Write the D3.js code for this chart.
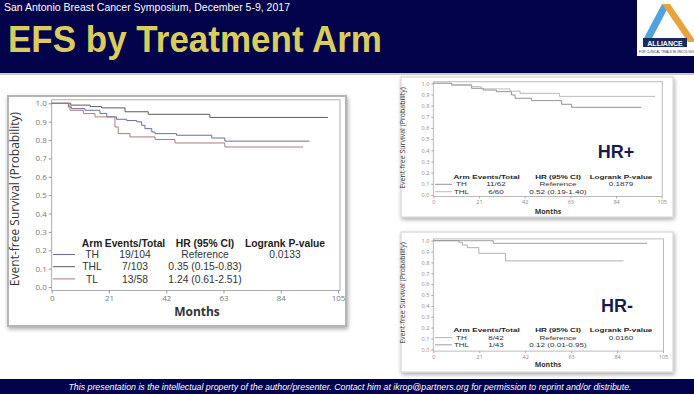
<!DOCTYPE html>
<html>
<head>
<meta charset="utf-8">
<script src="https://cdn.jsdelivr.net/npm/d3@7"></script>
<style>
  body { margin: 0; background: #fff; }
  svg { display: block; }
  .chart text { font-family: "Liberation Sans", Arial, sans-serif; }
</style>
</head>
<body>
<script>
// month ticks shared by all three plots
var monthTicks = [0, 21, 42, 63, 84, 105];
var survTicks = [0, 0.1, 0.2, 0.3, 0.4, 0.5, 0.6, 0.7, 0.8, 0.9, 1.0];

// all patients: [month, event-free survival], last point = end of follow-up
var allTH  = [[0,1],[6.1,0.98],[7.3,0.971],[12.2,0.962],[17.7,0.945],[20.2,0.926],[23.8,0.913],[27.5,0.906],[31.2,0.899],[33,0.88],[34.2,0.862],[36.7,0.844],[37.9,0.835],[45.8,0.826],[58.7,0.811],[63.5,0.794],[94.6,0.794]];
var allTHL = [[0,1],[7,0.99],[14.1,0.982],[18.3,0.975],[26.9,0.954],[35.4,0.94],[58,0.923],[101.3,0.923]];
var allTL  = [[0,1],[6.7,0.962],[11.6,0.944],[15.9,0.926],[23.2,0.871],[24.4,0.835],[28.7,0.817],[37.9,0.803],[45.2,0.784],[63.5,0.762],[92.2,0.762]];

// HR+ subgroup
var posTH  = [[0,1],[8.4,0.985],[17.6,0.955],[23,0.94],[29,0.925],[36,0.895],[37.6,0.866],[45.2,0.845],[59,0.812],[63.6,0.785],[95.6,0.785]];
var posTHL = [[0,1],[8.5,0.985],[17.6,0.97],[22,0.95],[35.3,0.93],[39.9,0.91],[58,0.883],[102,0.883]];

// HR- subgroup
var negTH  = [[0,1],[11.7,0.985],[13.3,0.96],[15.5,0.936],[20.8,0.884],[33,0.814],[87,0.814]];
var negTHL = [[0,1],[27.4,0.976],[97.7,0.976]];

// legend tables: arm, events/total, HR (95% CI), logrank p
var allRows = [["TH","19/104","Reference","0.0133"],["THL","7/103","0.35 (0.15-0.83)",""],["TL","13/58","1.24 (0.61-2.51)",""]];
var posRows = [["TH","11/62","Reference","0.1879"],["THL","6/60","0.52 (0.19-1.40)",""]];
var negRows = [["TH","8/42","Reference","0.0160"],["THL","1/43","0.12 (0.01-0.95)",""]];
var headers = ["Arm","Events/Total","HR (95% CI)","Logrank P-value"];

var width = 694, height = 394;
var navy = "#03034b";

var svg = d3.select("body").append("svg")
    .attr("width", width)
    .attr("height", height);

var defs = svg.append("defs");
var f = defs.append("filter").attr("id", "shadow")
    .attr("x", "-5%").attr("y", "-5%").attr("width", "110%").attr("height", "115%");
f.append("feDropShadow").attr("dx", 1).attr("dy", 2).attr("stdDeviation", 2)
    .attr("flood-color", "#000").attr("flood-opacity", 0.35);
defs.append("clipPath").attr("id", "logoClip")
  .append("rect").attr("x", 637).attr("y", 0).attr("width", 57).attr("height", 56);

// ---- header ----
svg.append("rect").attr("width", width).attr("height", 73).attr("fill", navy);
svg.append("rect").attr("y", 73).attr("width", width).attr("height", 2).attr("fill", "#c9c9d2");
svg.append("text")
    .attr("x", 4).attr("y", 11)
    .attr("fill", "#fff")
    .style("font-family", "Liberation Sans, Arial, sans-serif")
    .style("font-size", "10.5px")
    .text("San Antonio Breast Cancer Symposium, December 5-9, 2017");
svg.append("text")
    .attr("transform", "translate(8,52) scale(1,1.07)")
    .attr("fill", "#d9cd5c")
    .style("font-family", "Liberation Sans, Arial, sans-serif")
    .style("font-weight", "bold")
    .style("font-size", "35px")
    .text("EFS by Treatment Arm");

// logo
var logo = svg.append("g").attr("clip-path", "url(#logoClip)");
logo.append("rect").attr("x", 637).attr("y", 0).attr("width", 57).attr("height", 56).attr("fill", "#fff");
logo.append("path").attr("d", "M662,4 L670,4 L651,40 L643,40 Z").attr("fill", "#4fa3dc");
logo.append("path").attr("d", "M662,4 L670,4 L696,42 L688,42 Z").attr("fill", "#e7a43c");
logo.append("rect").attr("x", 643).attr("y", 38).attr("width", 44).attr("height", 9).attr("fill", "#1b2a5e");
logo.append("text").attr("x", 665).attr("y", 45.5).attr("text-anchor", "middle")
    .attr("fill", "#fff").style("font-family", "Liberation Sans, Arial").style("font-weight", "bold")
    .style("font-size", "7px").text("ALLIANCE");
logo.append("text").attr("x", 639).attr("y", 52.5)
    .attr("fill", "#1b2a5e").style("font-family", "Liberation Sans, Arial")
    .style("font-size", "3.1px").text("FOR CLINICAL TRIALS IN ONCOLOGY");

// ---- footer ----
svg.append("rect").attr("y", 379).attr("width", width).attr("height", 15).attr("fill", navy);
svg.append("text")
    .attr("x", 350).attr("y", 390)
    .attr("text-anchor", "middle")
    .attr("fill", "#fff")
    .style("font-family", "Liberation Sans, Arial, sans-serif")
    .style("font-style", "italic")
    .style("font-size", "8.8px")
    .text("This presentation is the intellectual property of the author/presenter. Contact him at ikrop@partners.org for permission to reprint and/or distribute.");

function drawKM(o) {
  var g = svg.append("g").attr("class", "chart");
  var x = d3.scaleLinear().domain([0, 105]).range([o.x0, o.x1]);
  var y = d3.scaleLinear().domain([0, 1]).range([o.y0, o.y1]);

  g.append("rect")
      .attr("x", o.box[0]).attr("y", o.box[1])
      .attr("width", o.box[2]).attr("height", o.box[3])
      .attr("fill", "#fff")
      .attr("stroke", o.boxStroke)
      .attr("stroke-width", o.boxWidth)
      .style("filter", "url(#shadow)");

  var top = y(1) - o.pad, bottom = y(0) + o.pad, right = x(105) + o.padR;

  // frame
  g.append("rect")
      .attr("x", x(0)).attr("y", top)
      .attr("width", right - x(0)).attr("height", bottom - top)
      .attr("fill", "none").attr("stroke", o.axisColor).attr("stroke-width", 0.8);

  var yAxis = g.append("g")
      .attr("transform", "translate(" + x(0) + ",0)")
      .call(d3.axisLeft(y).tickValues(survTicks).tickFormat(d3.format(".1f")).tickSize(o.tick).tickPadding(2));
  var xAxis = g.append("g")
      .attr("transform", "translate(0," + bottom + ")")
      .call(d3.axisBottom(x).tickValues(monthTicks).tickSize(o.tick).tickPadding(2));
  [xAxis, yAxis].forEach(function(a) {
    a.select(".domain").remove();
    a.selectAll("line").attr("stroke", o.axisColor);
    a.selectAll("text").attr("fill", o.tickColor)
        .style("font-family", "Open Sans, sans-serif")
        .style("font-size", o.tickSize + "px");
  });

  var line = d3.line()
      .x(function(d) { return x(d[0]); })
      .y(function(d) { return y(d[1]); })
      .curve(d3.curveStepAfter);

  o.series.forEach(function(s) {
    g.append("path")
        .datum(s.data)
        .attr("d", line)
        .attr("fill", "none")
        .attr("stroke", s.color)
        .attr("stroke-width", o.lineWidth);
  });

  // axis titles
  g.append("text")
      .attr("transform", "translate(" + o.ylab[0] + "," + o.ylab[1] + ") rotate(-90)")
      .attr("text-anchor", "middle")
      .attr("fill", "#333")
      .style("font-family", "Open Sans, sans-serif")
      .style("font-size", o.labSize + "px")
      .text("Event-free Survival (Probability)");
  g.append("text")
      .attr("x", o.xlab[0]).attr("y", o.xlab[1])
      .attr("text-anchor", "middle")
      .attr("dy", "0.35em")
      .attr("fill", "#333")
      .style("font-family", "Open Sans, sans-serif")
      .style("font-weight", "bold")
      .style("font-size", o.labSize + "px")
      .text("Months");

  // legend table (small panels are squeezed vertically, so stretch text sideways)
  function cell(t, cx, cy, bold) {
    g.append("text")
        .attr("transform", "translate(" + cx + "," + cy + ") scale(" + o.legSX + ",1)")
        .attr("dy", "0.35em")
        .attr("text-anchor", "middle")
        .attr("fill", bold ? "#222" : "#333")
        .style("font-weight", bold ? "bold" : "normal")
        .style("font-size", o.legSize + "px")
        .text(t);
  }
  headers.forEach(function(h, i) { cell(h, o.cols[i], o.legY, true); });

  o.rows.forEach(function(r, ri) {
    var ry = o.rowY + o.rowStep * ri;
    g.append("line")
        .attr("x1", o.sample[0]).attr("x2", o.sample[1])
        .attr("y1", ry).attr("y2", ry)
        .attr("stroke", o.series[ri].color)
        .attr("stroke-width", o.lineWidth);
    r.forEach(function(t, ci) {
      if (t) cell(t, o.cols[ci], ry, false);
    });
  });

  if (o.tag) {
    g.append("text")
        .attr("x", o.tag[0]).attr("y", o.tag[1])
        .attr("dy", "0.35em")
        .attr("text-anchor", "middle")
        .attr("fill", "#1a1a50")
        .style("font-weight", "bold")
        .style("font-size", "18px")
        .text(o.tag[2]);
  }
}

// main chart, all patients
drawKM({
  box: [8, 96, 338, 230], boxStroke: "#b5b5b5", boxWidth: 2,
  x0: 51.7, x1: 338, y0: 287, y1: 103.3, pad: 3.5, padR: 2,
  tick: 3, tickSize: 8, tickColor: "#777", axisColor: "#999",
  lineWidth: 1,
  ylab: [19, 199], xlab: [197, 312], labSize: 12,
  cols: [92, 135, 205, 285], legY: 243, rowY: 254.5, rowStep: 12.2, legSize: 10.3, legSX: 1,
  sample: [53, 75],
  rows: allRows,
  series: [
    { data: allTH, color: "#6d6aa6" },
    { data: allTHL, color: "#5c5c5c" },
    { data: allTL, color: "#b07c78" }
  ]
});

// HR+ subgroup
drawKM({
  box: [401, 77, 272, 140], boxStroke: "#d0d0d0", boxWidth: 1,
  x0: 433.3, x1: 661.7, y0: 195, y1: 83.3, pad: 1.5, padR: 0.5,
  tick: 2, tickSize: 5.5, tickColor: "#888", axisColor: "#aaa",
  lineWidth: 0.8,
  ylab: [405, 138], xlab: [548, 211.7], labSize: 7,
  cols: [461.5, 496, 558, 621], legY: 176.8, rowY: 184.3, rowStep: 7.4, legSize: 6.2, legSX: 1.3,
  sample: [435, 452],
  rows: posRows,
  series: [
    { data: posTH, color: "#777" },
    { data: posTHL, color: "#aaa" }
  ],
  tag: [616, 152, "HR+"]
});

// HR- subgroup
drawKM({
  box: [401, 232, 272, 140], boxStroke: "#d0d0d0", boxWidth: 1,
  x0: 433.3, x1: 663, y0: 349.3, y1: 240.7, pad: 1.8, padR: 0.5,
  tick: 2, tickSize: 5.5, tickColor: "#888", axisColor: "#aaa",
  lineWidth: 0.8,
  ylab: [405, 293], xlab: [548, 365], labSize: 7,
  cols: [461.5, 496, 558, 621], legY: 330.2, rowY: 337.6, rowStep: 7.2, legSize: 6.2, legSX: 1.3,
  sample: [435, 452],
  rows: negRows,
  series: [
    { data: negTH, color: "#9a9ab0" },
    { data: negTHL, color: "#888" }
  ],
  tag: [617, 306, "HR-"]
});
</script>
</body>
</html>
